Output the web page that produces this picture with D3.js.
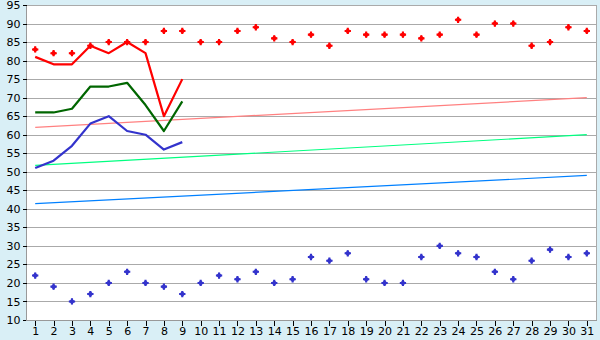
<!DOCTYPE html>
<html>
<head>
<meta charset="utf-8">
<script src="https://cdn.jsdelivr.net/npm/d3@7"></script>
<style>
  body { margin: 0; background: #d9eff6; }
  svg { display: block; }
  text { font-family: "DejaVu Sans", Verdana, sans-serif; font-size: 11px; fill: #000; }
</style>
</head>
<body>
<svg id="chart" width="600" height="340"></svg>
<script>
// days of month
var days = d3.range(1, 32);
var yTicks = [10, 15, 20, 25, 30, 35, 40, 45, 50, 55, 60, 65, 70, 75, 80, 85, 90, 95];

// scatter series (red diamonds up top, blue ones down low)
var redPoints  = [83,82,82,84,85,85,85,88,88,85,85,88,89,86,85,87,84,88,87,87,87,86,87,91,87,90,90,84,85,89,88];
var bluePoints = [22,19,15,17,20,23,20,19,17,20,22,21,23,20,21,27,26,28,21,20,20,27,30,28,27,23,21,26,29,27,28];

// line series, first 9 days only
var redLine   = [81,79,79,84,82,85,82,65,75];
var greenLine = [66,66,67,73,73,74,68,61,69];
var blueLine  = [51,53,57,63,65,61,60,56,58];

// trend lines: [value at day 1, value at day 31]
var trendPink  = [62, 70];
var trendGreen = [51.7, 60];
var trendBlue  = [41.4, 49];

// plot box (window.top is reserved, so pTop etc.)
var pLeft = 26, pRight = 596, pTop = 5, pBottom = 320;

var svg = d3.select("#chart");

var x = d3.scalePoint().domain(days).range([pLeft, pRight]).padding(0.5);
var y = d3.scaleLinear().domain([10, 95]).range([pBottom, pTop]);

// plot background
svg.append("rect")
  .attr("x", pLeft).attr("y", pTop)
  .attr("width", pRight - pLeft).attr("height", pBottom - pTop)
  .attr("fill", "#fff");

// gridlines
svg.append("g")
  .selectAll("line")
  .data(yTicks.filter(function(d) { return d > 10; }))
  .enter().append("line")
  .attr("x1", pLeft).attr("x2", pRight)
  .attr("y1", function(d) { return Math.round(y(d)) + 0.5; })
  .attr("y2", function(d) { return Math.round(y(d)) + 0.5; })
  .attr("stroke", "#aaa")
  .attr("shape-rendering", "crispEdges");

// right border
svg.append("line")
  .attr("x1", pRight + 0.5).attr("x2", pRight + 0.5)
  .attr("y1", pTop).attr("y2", pBottom)
  .attr("stroke", "#aaa").attr("shape-rendering", "crispEdges");

// y axis
var yAxis = svg.append("g")
  .attr("transform", "translate(" + (pLeft + 0.5) + ",0)")
  .call(d3.axisLeft(y).tickValues(yTicks).tickSize(4).tickPadding(2).tickFormat(d3.format("d")));
yAxis.selectAll("line").attr("stroke", "#000").attr("shape-rendering", "crispEdges");
yAxis.select(".domain").attr("d", "M0," + pTop + "V" + pBottom).attr("stroke", "#999").attr("shape-rendering", "crispEdges");
yAxis.selectAll("text").attr("font-family", null).attr("font-size", null);

// x axis
var xAxis = svg.append("g")
  .attr("transform", "translate(0," + (pBottom + 0.5) + ")")
  .call(d3.axisBottom(x).tickSize(5).tickPadding(2));
xAxis.selectAll("line").attr("stroke", "#000").attr("shape-rendering", "crispEdges");
xAxis.select(".domain").attr("d", "M" + pLeft + ",0H" + (pRight + 1)).attr("stroke", "#999").attr("shape-rendering", "crispEdges");
xAxis.selectAll("text").attr("font-family", null).attr("font-size", null);

// trend lines
function drawTrend(vals, color) {
  svg.append("line")
    .attr("x1", x(1)).attr("x2", x(31))
    .attr("y1", y(vals[0])).attr("y2", y(vals[1]))
    .attr("stroke", color).attr("stroke-width", 1.2);
}
drawTrend(trendPink, "#ff8080");
drawTrend(trendGreen, "#00ff80");
drawTrend(trendBlue, "#0080ff");

// lines
var line = d3.line()
  .x(function(d, i) { return x(days[i]); })
  .y(function(d) { return y(d); });

function drawLine(vals, color) {
  svg.append("path")
    .datum(vals)
    .attr("d", line)
    .attr("fill", "none")
    .attr("stroke", color)
    .attr("stroke-width", 2.2)
    .attr("stroke-linejoin", "round");
}
drawLine(greenLine, "#006600");
drawLine(blueLine, "#3333cc");
drawLine(redLine, "#ff0000");

// markers: chunky diamond with a cross through it, like the original
var crossSym = d3.symbol().type(d3.symbolCross).size(22);
var diamondSym = d3.symbol().type(d3.symbolSquare).size(18);
function drawPoints(vals, color) {
  var g = svg.append("g")
    .selectAll("g")
    .data(vals)
    .enter().append("g")
    .attr("transform", function(d, i) { return "translate(" + x(days[i]) + "," + y(d) + ")"; })
    .attr("fill", color);
  g.append("path").attr("d", crossSym);
  g.append("path").attr("d", diamondSym).attr("transform", "rotate(45)");
}
drawPoints(redPoints, "#ff0000");
drawPoints(bluePoints, "#3333cc");
</script>
</body>
</html>
